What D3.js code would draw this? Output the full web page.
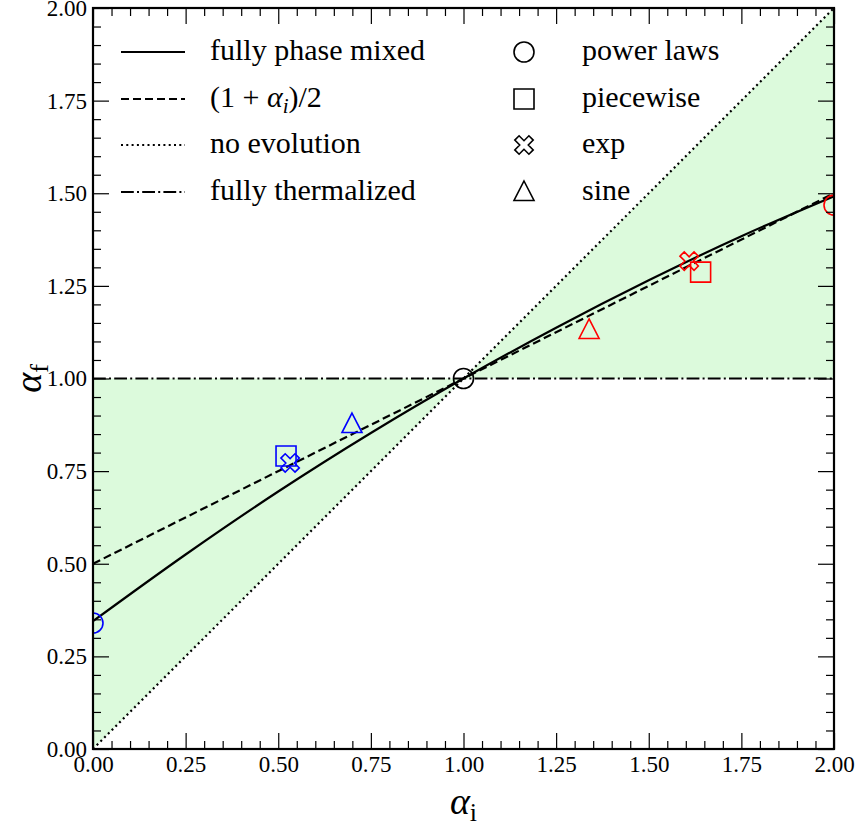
<!DOCTYPE html>
<html>
<head>
<meta charset="utf-8">
<script src="https://cdn.jsdelivr.net/npm/d3@7"></script>
<style>
	body { margin: 0; background: #fff; }
	svg text { font-family: "Liberation Serif", "Times New Roman", serif; fill: #000; }
	.axis path { display: none; }
	.axis line { stroke: #000; stroke-width: 1.2; }
	.axis text { font-size: 23px; font-family: "Liberation Serif", "Times New Roman", serif; }
</style>
</head>
<body>
<svg id="chart" width="855" height="826"></svg>
<script>
	// ticks
	var majorTicks = [0, 0.25, 0.5, 0.75, 1, 1.25, 1.5, 1.75, 2];
	var minorTicks = [0.05, 0.1, 0.15, 0.2, 0.3, 0.35, 0.4, 0.45, 0.55, 0.6, 0.65, 0.7, 0.8, 0.85, 0.9, 0.95,
		1.05, 1.1, 1.15, 1.2, 1.3, 1.35, 1.4, 1.45, 1.55, 1.6, 1.65, 1.7, 1.8, 1.85, 1.9, 1.95];

	// shaded regions (between no evolution and fully thermalized)
	var shadeLowX = [0, 0, 1], shadeLowY = [0, 1, 1];
	var shadeHighX = [1, 2, 2], shadeHighY = [1, 1, 2];

	// lines
	var mixedX = [0, 0.25, 0.5, 0.75, 1, 1.25, 1.5, 1.75, 2];
	var mixedY = [0.345, 0.525, 0.695, 0.853, 1.0, 1.137, 1.265, 1.384, 1.492];
	var straightX = [0, 2];
	var halfY = [0.5, 1.5];
	var noEvolutionY = [0, 2];
	var thermalY = [1, 1];

	// markers
	var shapes = ['circle', 'square', 'exp', 'sine'];
	var shapeLabels = ['power laws', 'piecewise', 'exp', 'sine'];
	var blueX = [0.0, 0.521, 0.532, 0.699];
	var blueY = [0.340, 0.791, 0.772, 0.877];
	var redX = [2.0, 1.640, 1.609, 1.339];
	var redY = [1.468, 1.287, 1.317, 1.131];
	var centerX = [1.0], centerY = [1.0];

	var lineLabels = ['fully phase mixed', '(1 + \u03b1i)/2', 'no evolution', 'fully thermalized'];
	var lineDashes = ['none', '8,4', '2,3.3', '12.8,3.2,2,3.2'];

(function(d3) {
	'use strict';

	var left = 93, top = 8, right = 834, bottom = 749;
	var svg = d3.select('#chart');
	var x = d3.scaleLinear().domain([0, 2]).range([left, right]);
	var y = d3.scaleLinear().domain([0, 2]).range([bottom, top]);

	svg.append('defs').append('clipPath').attr('id', 'plot-clip')
		.append('rect').attr('x', left).attr('y', top).attr('width', right - left).attr('height', bottom - top);

	var plot = svg.append('g').attr('clip-path', 'url(#plot-clip)');

	var zipPoints = function(xs, ys) {
		return xs.map(function(v, i) { return [v, ys[i]]; });
	};
	var line = d3.line().x(function(d) { return x(d[0]); }).y(function(d) { return y(d[1]); });

	/** shading */
	[[shadeLowX, shadeLowY], [shadeHighX, shadeHighY]].forEach(function(s) {
		plot.append('path').attr('d', line(zipPoints(s[0], s[1])) + 'Z')
			.attr('fill', '#dcfadc').attr('stroke', 'none');
	});

	/** lines */
	var drawLine = function(pts, dash, curve) {
		plot.append('path').attr('d', line.curve(curve || d3.curveLinear)(pts))
			.attr('fill', 'none').attr('stroke', '#000').attr('stroke-width', 2.2)
			.attr('stroke-dasharray', dash === 'none' ? null : dash);
	};
	drawLine(zipPoints(straightX, thermalY), lineDashes[3]);
	drawLine(zipPoints(straightX, noEvolutionY), lineDashes[2]);
	drawLine(zipPoints(straightX, halfY), lineDashes[1]);
	drawLine(zipPoints(mixedX, mixedY), lineDashes[0], d3.curveMonotoneX);
	line.curve(d3.curveLinear);

	/** marker shapes */
	var markerPath = function(shape) {
		var p = d3.path();
		if (shape === 'circle') {
			p.moveTo(10, 0); p.arc(0, 0, 10, 0, 2 * Math.PI);
		} else if (shape === 'square') {
			p.rect(-10, -10, 20, 20);
		} else if (shape === 'sine') {
			p.moveTo(0, -11); p.lineTo(10, 8.5); p.lineTo(-10, 8.5); p.closePath();
		} else {
			// rotated thick cross
			var a = 3.2, b = 10.5, pts = [[a, a], [a, b], [-a, b], [-a, a], [-b, a], [-b, -a], [-a, -a], [-a, -b], [a, -b], [a, -a], [b, -a], [b, a]];
			var c = Math.SQRT1_2;
			pts.forEach(function(q, i) {
				var rx = (q[0] - q[1]) * c * 0.95, ry = (q[0] + q[1]) * c * 0.95;
				if (i === 0) { p.moveTo(rx, ry); } else { p.lineTo(rx, ry); }
			});
			p.closePath();
		}
		return p.toString();
	};

	var drawMarkers = function(xs, ys, color) {
		xs.forEach(function(v, i) {
			plot.append('path').attr('d', markerPath(shapes[i]))
				.attr('transform', 'translate(' + x(v) + ',' + y(ys[i]) + ')')
				.attr('fill', 'none').attr('stroke', color).attr('stroke-width', 1.6);
		});
	};
	drawMarkers(blueX, blueY, '#0000ff');
	drawMarkers(redX, redY, '#ff0000');
	drawMarkers(centerX, centerY, '#000');

	/** axes */
	var addAxis = function(axisFn, scale, transform, values, size, labels, padding) {
		return svg.append('g').attr('class', 'axis').attr('transform', transform)
			.call(axisFn(scale).tickValues(values).tickSize(-size).tickPadding(padding || 0)
				.tickFormat(labels ? d3.format('.2f') : ''))
			.attr('font-family', null).attr('font-size', null);
	};
	addAxis(d3.axisBottom, x, 'translate(0,' + bottom + ')', majorTicks, 16, true, 7);
	addAxis(d3.axisBottom, x, 'translate(0,' + bottom + ')', minorTicks, 8, false);
	addAxis(d3.axisTop, x, 'translate(0,' + top + ')', majorTicks, 16, false);
	addAxis(d3.axisTop, x, 'translate(0,' + top + ')', minorTicks, 8, false);
	addAxis(d3.axisLeft, y, 'translate(' + left + ',0)', majorTicks, 16, true, 6);
	addAxis(d3.axisLeft, y, 'translate(' + left + ',0)', minorTicks, 8, false);
	addAxis(d3.axisRight, y, 'translate(' + right + ',0)', majorTicks, 16, false);
	addAxis(d3.axisRight, y, 'translate(' + right + ',0)', minorTicks, 8, false);

	svg.append('rect').attr('x', left).attr('y', top).attr('width', right - left).attr('height', bottom - top)
		.attr('fill', 'none').attr('stroke', '#000').attr('stroke-width', 2.2);

	/** axis labels */
	var xLabel = svg.append('text').attr('x', (left + right) / 2).attr('y', 814)
		.attr('text-anchor', 'middle').style('font-size', '38px');
	xLabel.append('tspan').style('font-style', 'italic').text('\u03b1');
	xLabel.append('tspan').attr('dy', 7).style('font-size', '26px').text('i');

	var yLabel = svg.append('text').attr('transform', 'translate(41,' + ((top + bottom) / 2) + ') rotate(-90)')
		.attr('text-anchor', 'middle').style('font-size', '38px');
	yLabel.append('tspan').style('font-style', 'italic').text('\u03b1');
	yLabel.append('tspan').attr('dy', 7).style('font-size', '26px').text('f');

	/** legend */
	var rowY = [52, 99, 145, 192];
	var legend = svg.append('g');
	lineDashes.forEach(function(dash, i) {
		legend.append('line').attr('x1', 121).attr('x2', 185).attr('y1', rowY[i]).attr('y2', rowY[i])
			.attr('stroke', '#000').attr('stroke-width', 2.2)
			.attr('stroke-dasharray', dash === 'none' ? null : dash);
		var t = legend.append('text').attr('x', 210).attr('y', rowY[i] + 8).style('font-size', '30px');
		if (i === 1) {
			t.append('tspan').text('(1 + ');
			t.append('tspan').style('font-style', 'italic').text('\u03b1');
			t.append('tspan').attr('dy', 6).style('font-style', 'italic').style('font-size', '21px').text('i');
			t.append('tspan').attr('dy', -6).text(')/2');
		} else {
			t.text(lineLabels[i]);
		}
	});
	shapes.forEach(function(shape, i) {
		legend.append('path').attr('d', markerPath(shape))
			.attr('transform', 'translate(524,' + rowY[i] + ')')
			.attr('fill', 'none').attr('stroke', '#000').attr('stroke-width', 1.6);
		legend.append('text').attr('x', 582).attr('y', rowY[i] + 8).style('font-size', '30px').text(shapeLabels[i]);
	});
})(d3);
</script>
</body>
</html>
